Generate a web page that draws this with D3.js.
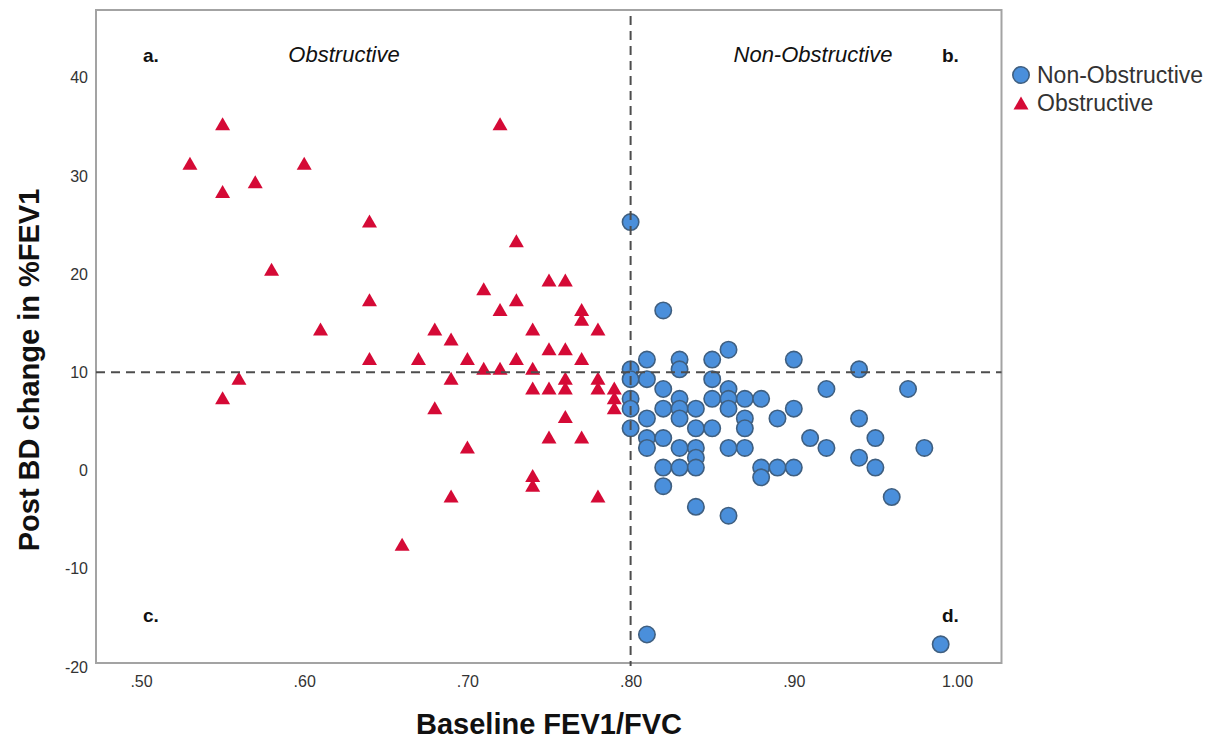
<!DOCTYPE html>
<html>
<head>
<meta charset="utf-8">
<script src="https://cdn.jsdelivr.net/npm/d3@7"></script>
<style>
  html, body { margin: 0; padding: 0; background: #fff; }
  svg { display: block; font-family: "Liberation Sans", Arial, sans-serif; }
</style>
</head>
<body>
<svg id="chart" width="1224" height="742"></svg>
<script>
// Baseline FEV1/FVC (x) against post-bronchodilator change in %FEV1 (y)
const obstructiveX = [
  0.55, 0.72, 0.53, 0.60, 0.57, 0.55, 0.64, 0.73, 0.58, 0.64,
  0.75, 0.76, 0.71, 0.73, 0.72, 0.77, 0.77, 0.61, 0.68, 0.69,
  0.74, 0.78, 0.75, 0.76, 0.64, 0.67, 0.70, 0.73, 0.77, 0.71,
  0.72, 0.74, 0.56, 0.69, 0.76, 0.78, 0.74, 0.75, 0.76, 0.78,
  0.79, 0.55, 0.79, 0.79, 0.68, 0.76, 0.75, 0.77, 0.70, 0.74,
  0.74, 0.69, 0.78, 0.66
];
const obstructiveY = [
  35.3, 35.3, 31.3, 31.3, 29.4, 28.4, 25.4, 23.4, 20.5, 17.4,
  19.4, 19.4, 18.5, 17.4, 16.4, 16.4, 15.4, 14.4, 14.4, 13.4,
  14.4, 14.4, 12.4, 12.4, 11.4, 11.4, 11.4, 11.4, 11.4, 10.4,
  10.4, 10.4, 9.4, 9.4, 9.4, 9.4, 8.4, 8.4, 8.4, 8.4,
  8.4, 7.4, 7.4, 6.4, 6.4, 5.5, 3.4, 3.4, 2.4, -0.5,
  -1.5, -2.6, -2.6, -7.5
];
const nonObstructiveX = [
  0.80, 0.82, 0.86, 0.81, 0.83, 0.85, 0.90, 0.80, 0.83, 0.94,
  0.80, 0.81, 0.85, 0.82, 0.86, 0.92, 0.97, 0.80, 0.83, 0.85,
  0.86, 0.87, 0.88, 0.80, 0.82, 0.83, 0.84, 0.86, 0.90, 0.81,
  0.83, 0.87, 0.89, 0.94, 0.80, 0.84, 0.85, 0.87, 0.81, 0.82,
  0.91, 0.95, 0.81, 0.83, 0.84, 0.86, 0.87, 0.92, 0.98, 0.84,
  0.94, 0.82, 0.83, 0.84, 0.88, 0.89, 0.90, 0.95, 0.88, 0.82,
  0.96, 0.84, 0.86, 0.81, 0.99
];
const nonObstructiveY = [
  25.3, 16.3, 12.3, 11.3, 11.3, 11.3, 11.3, 10.3, 10.3, 10.3,
  9.3, 9.3, 9.3, 8.3, 8.3, 8.3, 8.3, 7.3, 7.3, 7.3,
  7.3, 7.3, 7.3, 6.3, 6.3, 6.3, 6.3, 6.3, 6.3, 5.3,
  5.3, 5.3, 5.3, 5.3, 4.3, 4.3, 4.3, 4.3, 3.3, 3.3,
  3.3, 3.3, 2.3, 2.3, 2.3, 2.3, 2.3, 2.3, 2.3, 1.3,
  1.3, 0.3, 0.3, 0.3, 0.3, 0.3, 0.3, 0.3, -0.7, -1.6,
  -2.7, -3.7, -4.6, -16.7, -17.7
];
const xTickValues = [0.5, 0.6, 0.7, 0.8, 0.9, 1.0];
const yTickValues = [-20, -10, 0, 10, 20, 30, 40];
const ratioCutoff = 0.80;
const responseCutoff = 10;
const groupNames = ["Non-Obstructive", "Obstructive"];
const quadrantLabels = ["a.", "b.", "c.", "d."];

const svg = d3.select("#chart");
const frame = { left: 96, top: 10, right: 1001.5, bottom: 663 };

const x = d3.scaleLinear().domain([0.5, 1.0]).range([141, 957]);
const y = d3.scaleLinear().domain([-20, 40]).range([666.9, 77.7]);

const circleFill = "#4a8fdb";
const circleStroke = "#3f5f80";
const triFill = "#d50a36";
const circleR = 8.2;

// triangle centred on its bounding box
function triPath(w, h) {
  return `M0,${-h / 2}L${w / 2},${h / 2}L${-w / 2},${h / 2}Z`;
}

// plot frame
svg.append("rect")
  .attr("x", frame.left).attr("y", frame.top)
  .attr("width", frame.right - frame.left)
  .attr("height", frame.bottom - frame.top)
  .attr("fill", "#fff")
  .attr("stroke", "#a3a3a3")
  .attr("stroke-width", 2);

// axes (labels only, no tick marks)
const fmtX = d => d3.format(".2f")(d).replace(/^0\./, ".");
const fmtY = d => String(d);
const xAxis = svg.append("g")
  .attr("transform", `translate(0,${frame.bottom})`)
  .call(d3.axisBottom(x).tickValues(xTickValues).tickSize(0).tickPadding(13).tickFormat(fmtX));
xAxis.select(".domain").remove();
xAxis.selectAll("text")
  .attr("font-size", 16).attr("fill", "#333")
  .attr("font-family", "'Liberation Sans', Arial, sans-serif");

const yAxis = svg.append("g")
  .attr("transform", `translate(${frame.left},0)`)
  .call(d3.axisLeft(y).tickValues(yTickValues).tickSize(0).tickPadding(8).tickFormat(fmtY));
yAxis.select(".domain").remove();
yAxis.selectAll("text")
  .attr("font-size", 16).attr("fill", "#333")
  .attr("font-family", "'Liberation Sans', Arial, sans-serif");

// axis titles
svg.append("text")
  .attr("x", 549).attr("y", 734)
  .attr("text-anchor", "middle")
  .attr("font-size", 29).attr("font-weight", "bold").attr("fill", "#111")
  .text("Baseline FEV1/FVC");

svg.append("text")
  .attr("transform", "translate(39,370) rotate(-90)")
  .attr("text-anchor", "middle")
  .attr("font-size", 29).attr("font-weight", "bold").attr("fill", "#111")
  .text("Post BD change in %FEV1");

// markers
const obstructive = obstructiveX.map((v, i) => ({ x: v, y: obstructiveY[i] }));
const nonObstructive = nonObstructiveX.map((v, i) => ({ x: v, y: nonObstructiveY[i] }));

svg.append("g").selectAll("path")
  .data(obstructive)
  .join("path")
  .attr("transform", d => `translate(${x(d.x)},${y(d.y)})`)
  .attr("d", triPath(15, 13))
  .attr("fill", triFill);

svg.append("g").selectAll("circle")
  .data(nonObstructive)
  .join("circle")
  .attr("cx", d => x(d.x))
  .attr("cy", d => y(d.y))
  .attr("r", circleR)
  .attr("fill", circleFill)
  .attr("stroke", circleStroke)
  .attr("stroke-width", 1.6);

// cut-off reference lines
svg.append("line")
  .attr("x1", x(ratioCutoff)).attr("x2", x(ratioCutoff))
  .attr("y1", frame.top + 6).attr("y2", frame.bottom + 3)
  .attr("stroke", "#4d4d4d").attr("stroke-width", 2)
  .attr("stroke-dasharray", "9,6");

svg.append("line")
  .attr("x1", frame.left).attr("x2", frame.right)
  .attr("y1", y(responseCutoff)).attr("y2", y(responseCutoff))
  .attr("stroke", "#4d4d4d").attr("stroke-width", 2)
  .attr("stroke-dasharray", "9,6");

// quadrant annotations
const quad = svg.append("g").attr("font-size", 19).attr("font-weight", "bold").attr("fill", "#111");
quad.append("text").attr("x", 143).attr("y", 62).text(quadrantLabels[0]);
quad.append("text").attr("x", 942).attr("y", 62).text(quadrantLabels[1]);
quad.append("text").attr("x", 143).attr("y", 622).text(quadrantLabels[2]);
quad.append("text").attr("x", 942).attr("y", 622).text(quadrantLabels[3]);

const regionText = svg.append("g").attr("font-size", 22).attr("font-style", "italic").attr("fill", "#111")
  .attr("text-anchor", "middle");
regionText.append("text").attr("x", 344).attr("y", 62).text(groupNames[1]);
regionText.append("text").attr("x", 813).attr("y", 62).text(groupNames[0]);

// legend
const legend = svg.append("g").attr("font-size", 23).attr("fill", "#333");
legend.append("circle")
  .attr("cx", 1021).attr("cy", 75).attr("r", circleR)
  .attr("fill", circleFill).attr("stroke", circleStroke).attr("stroke-width", 1.6);
legend.append("text").attr("x", 1037).attr("y", 83).text(groupNames[0]);
legend.append("path")
  .attr("transform", "translate(1021,103)")
  .attr("d", triPath(15, 13))
  .attr("fill", triFill);
legend.append("text").attr("x", 1037).attr("y", 111).text(groupNames[1]);
</script>
</body>
</html>
